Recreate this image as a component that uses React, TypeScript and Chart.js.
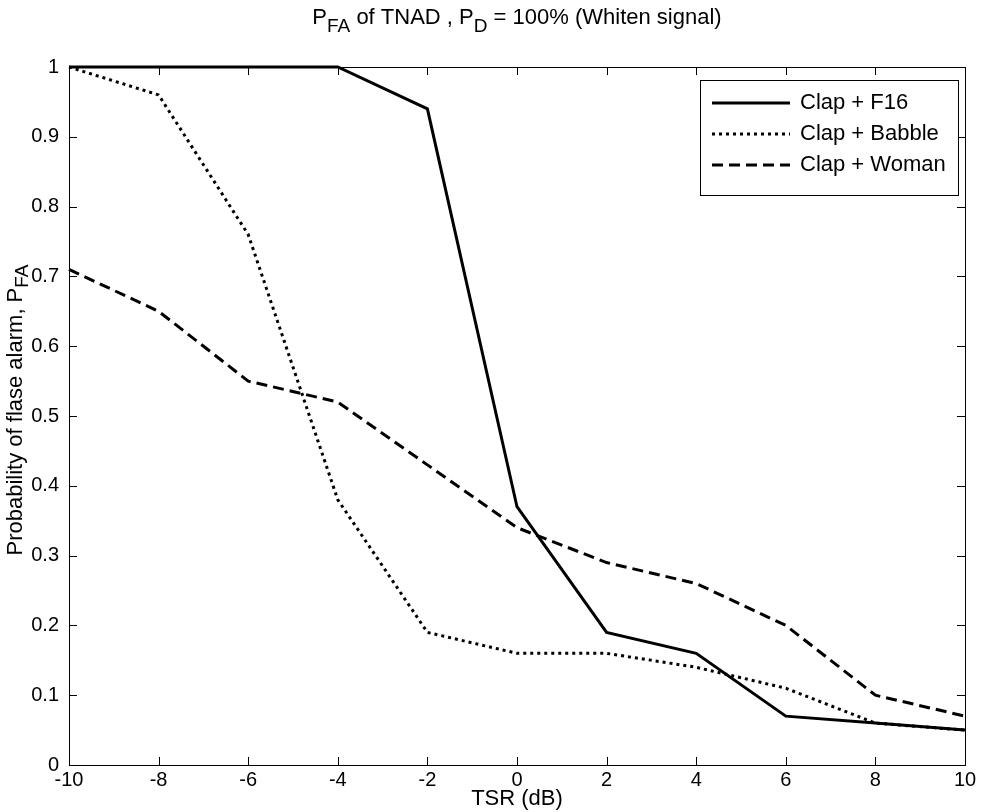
import React, { useEffect, useRef } from 'react';
import { Chart, registerables } from 'chart.js';

Chart.register(...registerables);

const tsr = [-10, -8, -6, -4, -2, 0, 2, 4, 6, 8, 10];
const clapF16 = [1, 1, 1, 1, 0.94, 0.37, 0.19, 0.16, 0.07, 0.06, 0.05];
const clapBabble = [1, 0.96, 0.76, 0.38, 0.19, 0.16, 0.16, 0.14, 0.11, 0.06, 0.05];
const clapWoman = [0.71, 0.65, 0.55, 0.52, 0.43, 0.34, 0.29, 0.26, 0.2, 0.1, 0.07];
const xTicks = [-10, -8, -6, -4, -2, 0, 2, 4, 6, 8, 10];
const yTicks = [0, 0.1, 0.2, 0.3, 0.4, 0.5, 0.6, 0.7, 0.8, 0.9, 1];
const seriesLabels = ['Clap + F16', 'Clap + Babble', 'Clap + Woman'];
const titleParts = [
  { t: 'P' }, { t: 'FA', sub: true }, { t: ' of TNAD , P' }, { t: 'D', sub: true }, { t: ' = 100% (Whiten signal)' },
];
const xTitle = 'TSR (dB)';
const yTitleParts = [{ t: 'Probability of flase alarm, P' }, { t: 'FA', sub: true }];

const FONT = '"Liberation Sans", Arial, sans-serif';
const FS = 22;
const TICK_FS = 20;

type Part = { t: string; sub?: boolean };

function drawRich(ctx: CanvasRenderingContext2D, parts: Part[], cx: number, cy: number, subOff: number) {
  const main = `${FS}px ${FONT}`;
  const subf = `${Math.round(FS * 0.88)}px ${FONT}`;
  let total = 0;
  for (const p of parts) {
    ctx.font = p.sub ? subf : main;
    total += ctx.measureText(p.t).width;
  }
  let x = cx - total / 2;
  ctx.textAlign = 'left';
  ctx.textBaseline = 'middle';
  for (const p of parts) {
    ctx.font = p.sub ? subf : main;
    ctx.fillText(p.t, x, p.sub ? cy + subOff : cy);
    x += ctx.measureText(p.t).width;
  }
}

const decorPlugin = {
  id: 'decor',
  afterDatasetsDraw(chart: any) {
    const ctx: CanvasRenderingContext2D = chart.ctx;
    const { left, right, top, bottom } = chart.chartArea;
    const xs = chart.scales.x;
    const ys = chart.scales.y;
    ctx.save();
    ctx.strokeStyle = '#000';
    ctx.lineWidth = 1;
    ctx.setLineDash([]);
    ctx.strokeRect(left + 0.5, top + 0.5, right - left, bottom - top);
    const tl = 8;
    ctx.beginPath();
    for (const v of xTicks) {
      const px = Math.round(xs.getPixelForValue(v)) + 0.5;
      ctx.moveTo(px, bottom); ctx.lineTo(px, bottom - tl);
      ctx.moveTo(px, top); ctx.lineTo(px, top + tl);
    }
    for (const v of yTicks) {
      const py = Math.round(ys.getPixelForValue(v)) + 0.5;
      ctx.moveTo(left, py); ctx.lineTo(left + tl, py);
      ctx.moveTo(right, py); ctx.lineTo(right - tl, py);
    }
    ctx.stroke();

    // Legend
    const bx = 700, by = 80, bw = 258, bh = 115;
    ctx.fillStyle = '#fff';
    ctx.fillRect(bx, by, bw, bh);
    ctx.strokeRect(bx + 0.5, by + 0.5, bw, bh);
    chart.data.datasets.forEach((ds: any, i: number) => {
      const yy = by + 23 + i * 31;
      ctx.beginPath();
      ctx.lineWidth = ds.borderWidth;
      ctx.setLineDash(ds.borderDash || []);
      ctx.moveTo(bx + 12, yy);
      ctx.lineTo(bx + 90, yy);
      ctx.stroke();
      ctx.setLineDash([]);
      ctx.fillStyle = '#000';
      ctx.font = `${FS}px ${FONT}`;
      ctx.textAlign = 'left';
      ctx.textBaseline = 'middle';
      ctx.fillText(ds.label, bx + 100, yy);
    });

    // Titles
    ctx.fillStyle = '#000';
    const cx = (left + right) / 2;
    drawRich(ctx, titleParts, cx, 18, 9);
    ctx.font = `${FS}px ${FONT}`;
    ctx.textAlign = 'center';
    ctx.textBaseline = 'middle';
    ctx.fillText(xTitle, cx, 799);
    ctx.save();
    ctx.translate(16, (top + bottom) / 2 - 6);
    ctx.rotate(-Math.PI / 2);
    drawRich(ctx, yTitleParts, 0, 0, 7);
    ctx.restore();
    ctx.restore();
  },
};

export default function App() {
  const ref = useRef<HTMLCanvasElement>(null);
  useEffect(() => {
    document.body.style.margin = '0';
    const mk = (ys: number[]) => tsr.map((x, i) => ({ x, y: ys[i] }));
    const chart = new Chart(ref.current!, {
      type: 'line',
      data: {
        datasets: [
          { label: seriesLabels[0], data: mk(clapF16), borderColor: '#000', borderWidth: 3, borderDash: [], pointRadius: 0, clip: 6 as any, tension: 0 },
          { label: seriesLabels[1], data: mk(clapBabble), borderColor: '#000', borderWidth: 3, borderDash: [3, 4], pointRadius: 0, clip: 6 as any, tension: 0 },
          { label: seriesLabels[2], data: mk(clapWoman), borderColor: '#000', borderWidth: 3, borderDash: [11, 6], pointRadius: 0, clip: 6 as any, tension: 0 },
        ],
      },
      options: {
        animation: false,
        responsive: false,
        devicePixelRatio: 1,
        layout: { padding: { top: 67, right: 18, left: 0, bottom: 0 } },
        plugins: { legend: { display: false }, title: { display: false }, tooltip: { enabled: false } },
        scales: {
          x: {
            type: 'linear', min: -10, max: 10,
            afterBuildTicks: (s: any) => { s.ticks = xTicks.map((v) => ({ value: v })); },
            afterFit: (s: any) => { s.height = 47; },
            grid: { display: false, drawTicks: false },
            border: { display: false },
            ticks: { color: '#000', font: { family: FONT, size: TICK_FS }, padding: 3, maxRotation: 0, autoSkip: false,
              callback: (v: any) => String(v) },
          },
          y: {
            type: 'linear', min: 0, max: 1,
            afterBuildTicks: (s: any) => { s.ticks = yTicks.map((v) => ({ value: v })); },
            afterFit: (s: any) => { s.width = 69; },
            grid: { display: false, drawTicks: false },
            border: { display: false },
            ticks: { color: '#000', font: { family: FONT, size: TICK_FS }, padding: 10, autoSkip: false,
              callback: (v: any) => (v === 0 ? '0' : v === 1 ? '1' : Number(v).toFixed(1)) },
          },
        },
      },
      plugins: [decorPlugin],
    });
    return () => chart.destroy();
  }, []);
  return (
    <div style={{ width: 983, height: 812 }}>
      <canvas ref={ref} width={983} height={812} style={{ width: 983, height: 812, display: 'block' }} />
    </div>
  );
}
